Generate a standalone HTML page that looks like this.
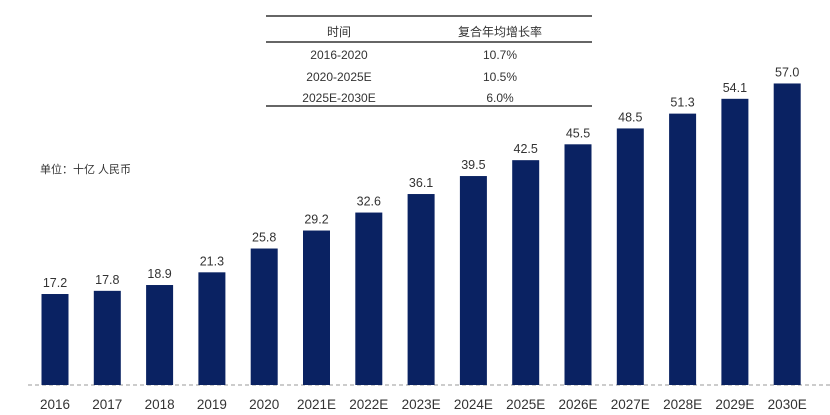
<!DOCTYPE html>
<html><head><meta charset="utf-8"><style>
body{margin:0;background:#fff;}
svg{display:block;font-family:"Liberation Sans","Noto Sans CJK SC",sans-serif;}
</style></head><body>
<svg width="830" height="415" viewBox="0 0 830 415">
<line x1="266" y1="16" x2="592" y2="16" stroke="#666" stroke-width="2"/>
<line x1="266" y1="42" x2="592" y2="42" stroke="#666" stroke-width="2"/>
<line x1="266" y1="106" x2="592" y2="106" stroke="#666" stroke-width="2"/>
<g font-size="12" fill="#333" text-anchor="middle">
<text x="339" y="36">时间</text><text x="500" y="36">复合年均增长率</text>
<text x="339" y="59">2016-2020</text><text x="500" y="59">10.7%</text>
<text x="339" y="81">2020-2025E</text><text x="500" y="81">10.5%</text>
<text x="339" y="102">2025E-2030E</text><text x="500" y="102">6.0%</text>
</g>
<text x="40" y="173" font-size="11" fill="#333">单位：十亿 人民币</text>
<line x1="28" y1="385" x2="830" y2="385" stroke="#999" stroke-dasharray="4,3"/>
<g id="bars"></g>
</svg>
<script>
var d=[["2016",17.2],["2017",17.8],["2018",18.9],["2019",21.3],["2020",25.8],["2021E",29.2],["2022E",32.6],["2023E",36.1],["2024E",39.5],["2025E",42.5],["2026E",45.5],["2027E",48.5],["2028E",51.3],["2029E",54.1],["2030E",57.0]];
var g=document.getElementById("bars"),s="";
d.forEach(function(e,i){var cx=55+i*52.3,h=e[1]*5.29,t=385-h;
s+='<rect x="'+(cx-13.5)+'" y="'+t+'" width="27" height="'+h+'" fill="#0a2262"/>';
s+='<text x="'+cx+'" y="'+(t-7)+'" font-size="12.5" fill="#333" text-anchor="middle">'+e[1].toFixed(1)+'</text>';
s+='<text x="'+cx+'" y="409" font-size="13.5" fill="#333" text-anchor="middle">'+e[0]+'</text>';});
g.innerHTML=s;
</script>
</body></html>
